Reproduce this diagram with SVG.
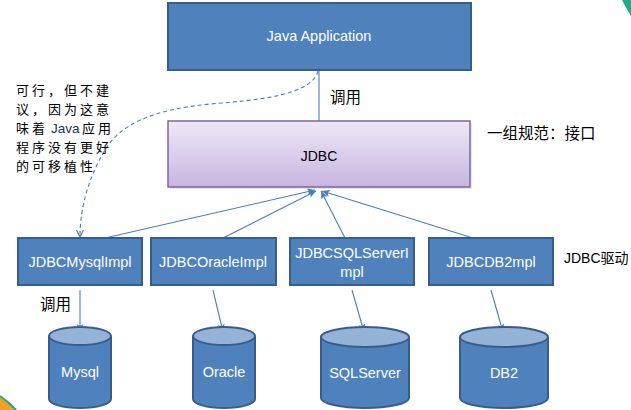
<svg xmlns="http://www.w3.org/2000/svg" width="631" height="410" viewBox="0 0 631 410">
<style>
.box{fill:#4f81bd;stroke:#385d8a;stroke-width:2}
.wt{font-family:"Liberation Sans",Arial,sans-serif;font-size:14.5px;fill:#ffffff;text-anchor:middle}
.cyl{fill:#4f81bd;stroke:#385d8a;stroke-width:2}
.cylTop{fill:#95b3d7;stroke:#385d8a;stroke-width:2}
.cn{fill:none;stroke:#4a7ebb;stroke-width:1.1}
.cjk{font-family:"Noto Sans CJK SC","Liberation Sans",sans-serif;font-size:15.5px;fill:#000000}
.note{font-family:"Noto Sans CJK SC","Liberation Sans",sans-serif;font-size:13px;letter-spacing:3px;fill:#000000}
.lat{font-family:"Liberation Sans",Arial,sans-serif;font-size:14px;fill:#000000}
</style>
<defs>
<linearGradient id="lav" x1="0" y1="0" x2="0" y2="1">
<stop offset="0" stop-color="#eee8f6"/>
<stop offset="1" stop-color="#c7b5e1"/>
</linearGradient>
<marker id="ah" markerWidth="10" markerHeight="8" refX="8" refY="3.5" orient="auto" markerUnits="userSpaceOnUse">
<path d="M0,0 L8,3.5 L0,7 L2,3.5 Z" fill="#4a7ebb"/>
</marker>
<marker id="av" markerWidth="10" markerHeight="10" refX="8" refY="4" orient="auto" markerUnits="userSpaceOnUse">
<path d="M1,0.5 L8,4 L1,7.5" fill="none" stroke="#4a7ebb" stroke-width="1.2"/>
</marker>
</defs>
<rect width="631" height="410" fill="#ffffff"/>
<path d="M622,0 L631,0 L631,16 Q626,8 622,0 Z" fill="#1fa98b"/>
<path d="M0,396 Q9,402 16,410 L0,410 Z" fill="#f1a125"/>
<path d="M0,396 Q9,402 16,410" fill="none" stroke="#1fa98b" stroke-width="2"/>

<g id="connectors">
<line class="cn" x1="319" y1="71" x2="319" y2="121"/>
<path class="cn" d="M318,71 C312,95 260,100 210,104 C150,110 120,125 105,150 C90,175 80,205 80,237" stroke-dasharray="4,3" marker-end="url(#av)"/>
<line class="cn" x1="105" y1="238" x2="315" y2="190" marker-end="url(#ah)"/>
<line class="cn" x1="223" y1="238" x2="316" y2="191" marker-end="url(#ah)"/>
<line class="cn" x1="345" y1="238" x2="321" y2="191" marker-end="url(#ah)"/>
<line class="cn" x1="473" y1="238" x2="322" y2="191" marker-end="url(#ah)"/>
<line class="cn" x1="80" y1="290" x2="80" y2="332" marker-end="url(#ah)"/>
<line class="cn" x1="213" y1="290" x2="223" y2="332" marker-end="url(#ah)"/>
<line class="cn" x1="352" y1="290" x2="364" y2="332" marker-end="url(#ah)"/>
<line class="cn" x1="491" y1="290" x2="503" y2="332" marker-end="url(#ah)"/>
<text class="cjk" x="330" y="103">调用</text>
<text class="cjk" x="40" y="310">调用</text>
</g>

<g id="java-app">
<rect class="box" x="168" y="3" width="303" height="67"/>
<text class="wt" x="319" y="41" font-size="15">Java Application</text>
</g>

<g id="jdbc">
<rect x="170" y="123" width="302" height="66" fill="#d9d9d9" opacity="0.6"/>
<rect x="168" y="121" width="302" height="66" fill="url(#lav)" stroke="#8064a2" stroke-width="1.5"/>
<text class="lat" x="319" y="161" text-anchor="middle">JDBC</text>
</g>
<text class="cjk" x="487" y="139">一组规范：接口</text>

<g id="note">
<text class="note">
<tspan x="16" y="95">可行，但不建</tspan>
<tspan x="16" y="114">议，因为这意</tspan>
<tspan x="16" y="133">味着</tspan><tspan x="51" y="133" font-family="Liberation Sans,Arial,sans-serif" font-size="13.5" letter-spacing="0" fill="#17375e">Java</tspan><tspan x="82" y="133">应用</tspan>
<tspan x="16" y="152">程序没有更好</tspan>
<tspan x="16" y="171">的可移植性</tspan>
</text>
</g>

<g id="impl-mysql">
<rect class="box" x="18" y="238" width="124" height="47"/>
<text class="wt" x="80" y="267">JDBCMysqlImpl</text>
</g>
<g id="impl-oracle">
<rect class="box" x="151" y="238" width="125" height="47"/>
<text class="wt" x="213" y="267">JDBCOracleImpl</text>
</g>
<g id="impl-sqlserver">
<rect class="box" x="290" y="238" width="124" height="47"/>
<text class="wt" x="352" y="258">JDBCSQLServerI</text>
<text class="wt" x="352" y="277">mpl</text>
</g>
<g id="impl-db2">
<rect class="box" x="429" y="238" width="124" height="47"/>
<text class="wt" x="491" y="267">JDBCDB2mpl</text>
</g>
<text x="564" y="263" font-family="Liberation Sans,Arial,sans-serif" font-size="14" fill="#000000">JDBC<tspan font-family="Noto Sans CJK SC,sans-serif">驱动</tspan></text>

<g id="db-mysql">
<path class="cyl" d="M49,336 L49,399 A31,9 0 0 0 111,399 L111,336"/>
<ellipse class="cylTop" cx="80" cy="336" rx="31" ry="9"/>
<text class="wt" x="80" y="377" font-size="14">Mysql</text>
</g>
<g id="db-oracle">
<path class="cyl" d="M193,336 L193,399 A31,9 0 0 0 255,399 L255,336"/>
<ellipse class="cylTop" cx="224" cy="336" rx="31" ry="9"/>
<text class="wt" x="224" y="377" font-size="14">Oracle</text>
</g>
<g id="db-sqlserver">
<path class="cyl" d="M321,337 L321,398 A44,10 0 0 0 409,398 L409,337"/>
<ellipse class="cylTop" cx="365" cy="337" rx="44" ry="10"/>
<text class="wt" x="365" y="378" font-size="14">SQLServer</text>
</g>
<g id="db-db2">
<path class="cyl" d="M460,337 L460,398 A44,10 0 0 0 548,398 L548,337"/>
<ellipse class="cylTop" cx="504" cy="337" rx="44" ry="10"/>
<text class="wt" x="504" y="378" font-size="14">DB2</text>
</g>
</svg>
